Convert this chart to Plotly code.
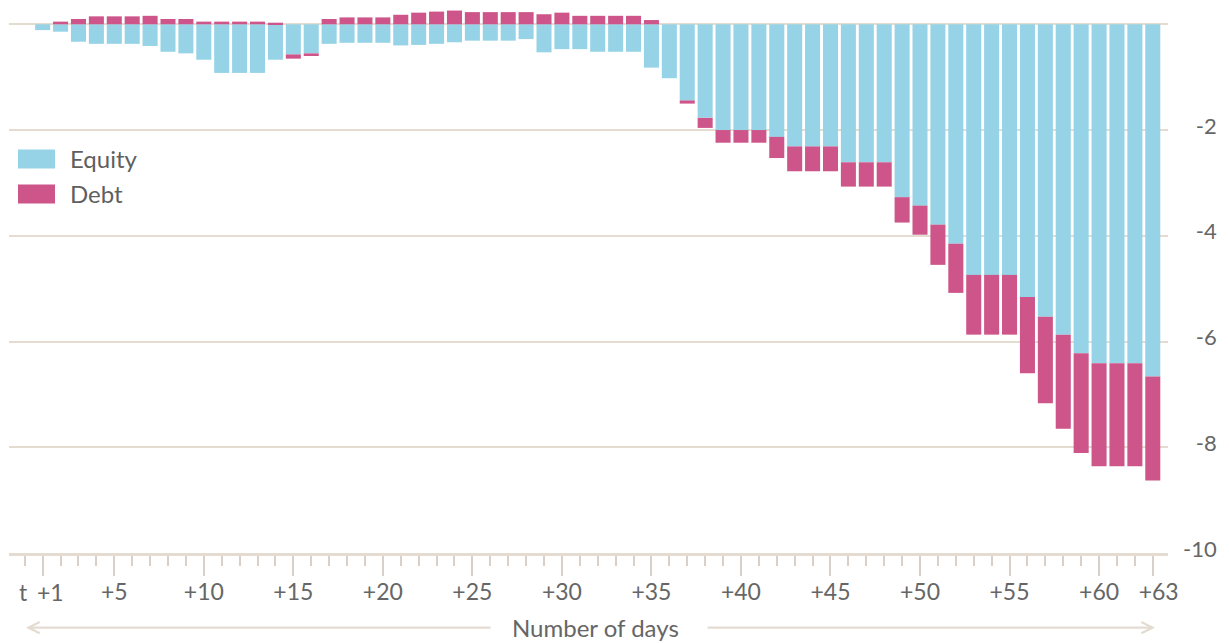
import plotly.graph_objects as go

# ---------------- data ----------------
days = list(range(0, 64))
equity = [0.0, -0.11, -0.14, -0.33, -0.37, -0.37, -0.37, -0.41, -0.52, -0.55,
          -0.67, -0.92, -0.92, -0.92, -0.67, -0.57, -0.55, -0.37, -0.35, -0.35,
          -0.35, -0.40, -0.39, -0.37, -0.34, -0.31, -0.31, -0.31, -0.28, -0.53,
          -0.47, -0.47, -0.52, -0.52, -0.52, -0.82, -1.02, -1.44, -1.77, -2.00,
          -2.00, -2.00, -2.13, -2.31, -2.31, -2.31, -2.61, -2.61, -2.61, -3.27,
          -3.43, -3.79, -4.15, -4.74, -4.74, -4.74, -5.16, -5.53, -5.87, -6.22,
          -6.41, -6.41, -6.41, -6.66]
debt = [0.0, 0.0, 0.05, 0.10, 0.15, 0.15, 0.15, 0.16, 0.10, 0.10,
        0.05, 0.05, 0.05, 0.05, 0.03, -0.08, -0.05, 0.10, 0.13, 0.13,
        0.13, 0.18, 0.22, 0.24, 0.26, 0.23, 0.23, 0.23, 0.23, 0.19,
        0.22, 0.16, 0.16, 0.16, 0.16, 0.08, 0.0, -0.06, -0.19, -0.24,
        -0.24, -0.24, -0.40, -0.47, -0.47, -0.47, -0.46, -0.46, -0.46, -0.48,
        -0.55, -0.76, -0.93, -1.13, -1.13, -1.13, -1.44, -1.64, -1.78, -1.89,
        -1.95, -1.95, -1.95, -1.97]
x_tickvals = [1, 5, 10, 15, 20, 25, 30, 35, 40, 45, 50, 55, 60, 63]
x_ticktext = ["", "+5", "+10", "+15", "+20", "+25", "+30", "+35",
              "+40", "+45", "+50", "+55", "+60", "\u00a0\u00a0+63"]
first_labels = {0: "t", 1: "+1"}
y_tickvals = [-2, -4, -6, -8, -10]
y_ticktext = ["\u2007-2", "\u2007-4", "\u2007-6", "\u2007-8", "-10"]
series_names = ["Equity", "Debt"]
axis_title = "Number of days"

# ---------------- styling ----------------
EQ = "#96d3e6"
DE = "#cd5589"
BEIGE = "#e4dbd1"
TXT = "#666666"
FONT = "Lato"

# the page places the figure 8px from the top-left corner of the window
SX, SY = 8, 8
FW, FH = 1229 - SX, 643 - SY
L, R, T = 1, 40, 0
PLOT_BOTTOM = 553.3          # screen px of the -10 line
B = FH - (PLOT_BOTTOM - SY)
PW = FW - L - R
PH = FH - T - B
PLOT_RIGHT = 1168            # screen px


def px(x):
    return (x - SX - L) / PW


def py(y):
    return (PLOT_BOTTOM - y) / PH


fig = go.Figure()
fig.add_trace(go.Bar(x=days, y=equity, name=series_names[0], marker=dict(color=EQ, line=dict(width=0)),
                     showlegend=False))
fig.add_trace(go.Bar(x=days, y=debt, name=series_names[1], marker=dict(color=DE, line=dict(width=0)),
                     showlegend=False))

fig.update_layout(
    width=FW, height=FH,
    margin=dict(l=L, r=R, t=T, b=B, autoexpand=False),
    paper_bgcolor="white", plot_bgcolor="white",
    barmode="relative", bargap=0.16,
    font=dict(family=FONT, color=TXT),
    xaxis=dict(
        domain=[0, px(PLOT_RIGHT)],
        range=[-0.88, 63.85],
        tickmode="array", tickvals=x_tickvals, ticktext=x_ticktext,
        ticks="outside", ticklen=20, tickwidth=2, tickcolor="#d9d1c9",
        minor=dict(tickmode="linear", tick0=0, dtick=1, ticks="outside", ticklen=10,
                   tickwidth=2, tickcolor="#d9d1c9", showgrid=False),
        showgrid=False, zeroline=False,
        showline=True, linecolor=BEIGE, linewidth=3,
        tickfont=dict(size=23, color=TXT, family=FONT),
        ticklabelstandoff=-4,
    ),
    yaxis=dict(
        range=[-10, 0.308],
        side="right",
        tickmode="array", tickvals=y_tickvals, ticktext=y_ticktext,
        ticks="", showline=False,
        showgrid=True, gridcolor=BEIGE, gridwidth=2,
        zeroline=True, zerolinecolor=BEIGE, zerolinewidth=2,
        tickfont=dict(size=22, color=TXT, family=FONT),
        ticklabelstandoff=14,
        ticklabelshift=-4,
    ),
)

# legend (custom swatches)
for i, (name, col) in enumerate(zip(series_names, [EQ, DE])):
    yc = 159 + i * 35
    fig.add_shape(type="rect", xref="paper", yref="paper",
                  x0=px(18), x1=px(55), y0=py(yc - 9.5), y1=py(yc + 9.5),
                  fillcolor=col, line=dict(width=0))
    fig.add_annotation(xref="paper", yref="paper", x=px(68), y=py(yc), text=name,
                       showarrow=False, xanchor="left", yanchor="middle",
                       font=dict(size=24, color="#5f5f5f", family=FONT))

# "t" and "+1" labels (placed apart so they do not collide)
for d, shift in zip(first_labels, [-1, 8]):
    fig.add_annotation(xref="x", yref="paper", x=d, y=py(592), text=first_labels[d], showarrow=False,
                       xanchor="center", yanchor="middle", xshift=shift,
                       font=dict(size=23, color=TXT, family=FONT))

# axis title with arrows
fig.add_annotation(xref="paper", yref="paper", x=px(595), y=py(628), text=axis_title,
                   showarrow=False, xanchor="center", yanchor="middle",
                   font=dict(size=24, color=TXT, family=FONT))
fig.add_annotation(xref="paper", yref="paper", x=px(26), y=py(628), ax=492 - 26, ay=0,
                   axref="pixel", ayref="pixel", text="", showarrow=True,
                   arrowhead=5, arrowsize=1, arrowwidth=2.2, arrowcolor=BEIGE)
fig.add_annotation(xref="paper", yref="paper", x=px(1155), y=py(628), ax=706 - 1155, ay=0,
                   axref="pixel", ayref="pixel", text="", showarrow=True,
                   arrowhead=5, arrowsize=1, arrowwidth=2.2, arrowcolor=BEIGE)

fig.write_html("out.html")
